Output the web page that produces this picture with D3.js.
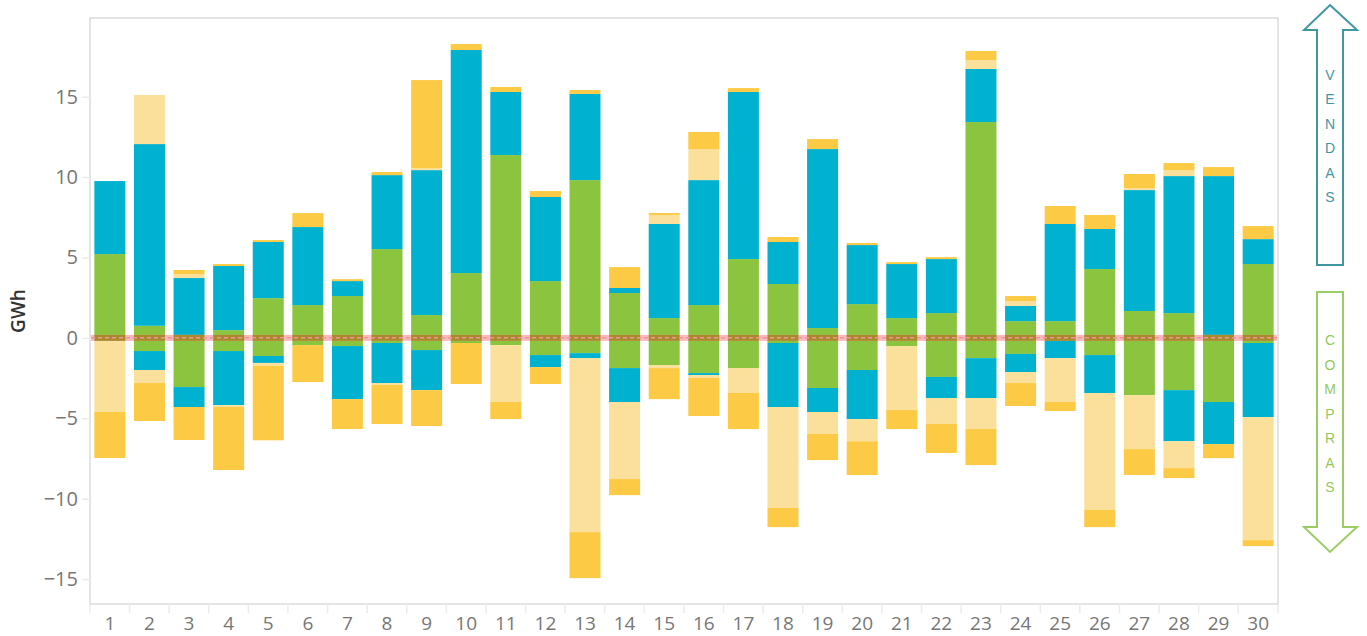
<!DOCTYPE html>
<html>
<head>
<meta charset="utf-8">
<script src="https://cdn.jsdelivr.net/npm/d3@7"></script>
<style>
  html, body { margin: 0; padding: 0; background: #fff; }
  svg { display: block; font-family: "Open Sans", "Noto Sans", sans-serif; }
</style>
</head>
<body>
<svg id="chart" width="1367" height="636"></svg>
<script>
// dias do mês
const days = d3.range(1, 31);

// vendas (positivo)
const greenSales = [5.21, 0.75, 0.05, 0.48, 2.47, 2.04, 2.60, 5.52, 1.42, 4.03, 11.37, 3.53, 9.81, 2.79, 1.23, 2.04, 4.90, 3.35, 0.61, 2.10, 1.23, 1.54, 13.42, 1.04, 1.04, 4.28, 1.67, 1.54, 0, 4.59];
const cyanSales = [4.54, 11.30, 3.67, 3.99, 3.49, 4.85, 0.93, 4.60, 9.01, 13.87, 3.92, 5.23, 5.36, 0.31, 5.85, 7.77, 10.39, 2.61, 11.13, 3.67, 3.36, 3.36, 3.30, 0.94, 6.04, 2.49, 7.52, 8.52, 10.06, 1.55];
const lightSales = [0, 3.05, 0.25, 0, 0, 0, 0, 0, 0.13, 0, 0, 0, 0, 0, 0.56, 1.93, 0, 0, 0, 0, 0, 0, 0.56, 0.31, 0, 0, 0.13, 0.37, 0, 0];
const yellowSales = [0, 0, 0.25, 0.12, 0.12, 0.87, 0.12, 0.19, 5.47, 0.37, 0.31, 0.37, 0.24, 1.30, 0.12, 1.06, 0.24, 0.31, 0.62, 0.13, 0.12, 0.12, 0.56, 0.31, 1.12, 0.87, 0.87, 0.44, 0.56, 0.81];

// compras (negativo)
const greenBuys = [0, 0.82, 3.06, 0.82, 1.13, 0.45, 0.51, 0.32, 0.76, 0.32, 0.45, 1.07, 0.95, 1.88, 1.69, 2.19, 1.88, 0.32, 3.12, 2.00, 0.51, 2.43, 1.26, 1.00, 0, 1.07, 3.56, 3.25, 3.99, 0.32];
const cyanBuys = [0.10, 1.18, 1.24, 3.36, 0.43, 0, 3.30, 2.49, 2.49, 0, 0, 0.75, 0.31, 2.11, 0, 0.12, 0, 3.98, 1.49, 3.05, 0, 1.31, 2.48, 1.13, 1.26, 2.36, 0, 3.18, 2.62, 4.61];
const lightBuys = [4.51, 0.81, 0, 0.12, 0.18, 0, 0, 0.12, 0, 0, 3.54, 0, 10.82, 4.79, 0.19, 0.18, 1.55, 6.27, 1.37, 1.38, 3.98, 1.62, 1.93, 0.68, 2.73, 7.27, 3.36, 1.67, 0, 7.65];
const yellowBuys = [2.86, 2.36, 2.05, 3.92, 4.63, 2.30, 1.86, 2.43, 2.23, 2.55, 1.06, 1.05, 2.86, 1.00, 1.93, 2.37, 2.24, 1.20, 1.62, 2.10, 1.18, 1.80, 2.24, 1.43, 0.56, 1.07, 1.61, 0.62, 0.87, 0.37];

const yTicks = [-15, -10, -5, 0, 5, 10, 15];

const colors = { g: "#8bc53f", c: "#00b1d0", l: "#fae09a", y: "#fcca44" };

const svg = d3.select("#chart");
const plot = { left: 90, right: 1278, top: 18, bottom: 604 };

// tabela para o stack
const table = days.map((d, i) => ({
  day: d,
  gS: greenSales[i], cS: cyanSales[i], lS: lightSales[i], yS: yellowSales[i],
  gP: -greenBuys[i], cP: -cyanBuys[i], lP: -lightBuys[i], yP: -yellowBuys[i]
}));
const keys = ["gS", "cS", "lS", "yS", "gP", "cP", "lP", "yP"];
const series = d3.stack().keys(keys).offset(d3.stackOffsetDiverging)(table);

const x = d3.scaleBand()
  .domain(days)
  .range([plot.left, plot.right])
  .paddingInner(0.217)
  .paddingOuter(0.11);

const y = d3.scaleLinear()
  .domain([-16.55, 19.89])
  .range([plot.bottom, plot.top]);

// caixa do gráfico
svg.append("rect")
  .attr("x", plot.left).attr("y", plot.top)
  .attr("width", plot.right - plot.left).attr("height", plot.bottom - plot.top)
  .attr("fill", "none").attr("stroke", "#dcdcdc").attr("stroke-width", 1.5);

// eixo y
const yAxis = svg.append("g")
  .attr("transform", `translate(${plot.left},0)`)
  .call(d3.axisLeft(y).tickValues(yTicks).tickSize(8).tickPadding(4).tickFormat(d3.format("d")));
yAxis.select(".domain").remove();
yAxis.selectAll("line").attr("stroke", "#ececec").attr("stroke-width", 1.5);
yAxis.selectAll("text")
  .attr("fill", "#777").attr("font-size", 20)
  .attr("font-family", "'Open Sans', sans-serif");

// separadores do eixo x
svg.append("g").selectAll("line")
  .data(d3.range(days.length + 1))
  .join("line")
  .attr("x1", i => plot.left + i * x.step())
  .attr("x2", i => plot.left + i * x.step())
  .attr("y1", plot.bottom).attr("y2", plot.bottom + 9)
  .attr("stroke", "#ececec").attr("stroke-width", 1.5);

// rótulos x
svg.append("g").selectAll("text")
  .data(days)
  .join("text")
  .attr("x", d => x(d) + x.bandwidth() / 2)
  .attr("y", 630)
  .attr("text-anchor", "middle")
  .attr("fill", "#777").attr("font-size", 19)
  .text(d => d);

// título do eixo
svg.append("text")
  .attr("transform", `translate(25,${(plot.top + plot.bottom) / 2}) rotate(-90)`)
  .attr("text-anchor", "middle")
  .attr("fill", "#333").attr("font-size", 19).attr("font-weight", 600)
  .text("GWh");

// barras empilhadas
svg.append("g").selectAll("g")
  .data(series)
  .join("g")
  .attr("fill", s => colors[s.key[0]])
  .selectAll("rect")
  .data(s => s)
  .join("rect")
  .attr("x", d => x(d.data.day))
  .attr("width", x.bandwidth())
  .attr("y", d => y(Math.max(d[0], d[1])))
  .attr("height", d => Math.abs(y(d[0]) - y(d[1])));

// linha do zero
const y0 = y(0);
svg.append("rect")
  .attr("x", plot.left + 1).attr("width", plot.right - plot.left - 2)
  .attr("y", y0 - 3).attr("height", 6)
  .attr("fill", "#f9b9bd");
svg.append("g").selectAll("rect")
  .data(days)
  .join("rect")
  .attr("x", d => x(d)).attr("width", x.bandwidth())
  .attr("y", y0 - 3).attr("height", 6)
  .attr("fill", "#a98a2b");
svg.append("line")
  .attr("x1", plot.left + 1).attr("x2", plot.right - 1)
  .attr("y1", y0).attr("y2", y0)
  .attr("stroke", "#f0959b").attr("stroke-width", 1.5)
  .attr("stroke-dasharray", "4,3");

// setas VENDAS / COMPRAS
const cx = 1330;
svg.append("path")
  .attr("d", `M${cx},5 L1357,30 L1343,30 L1343,265 L1317,265 L1317,30 L1304,30 Z`)
  .attr("fill", "none").attr("stroke", "#3f97a2").attr("stroke-width", 2);
svg.append("path")
  .attr("d", `M1317,292 L1343,292 L1343,527 L1357,527 L${cx},552 L1304,527 L1317,527 Z`)
  .attr("fill", "none").attr("stroke", "#9ccc65").attr("stroke-width", 2);

svg.append("g").selectAll("text")
  .data("VENDAS".split(""))
  .join("text")
  .attr("x", cx).attr("y", (d, i) => 80 + i * 24.4)
  .attr("text-anchor", "middle")
  .attr("font-size", 14).attr("fill", "#3f97a2")
  .attr("font-family", "'Liberation Sans', Arial, sans-serif")
  .text(d => d);

svg.append("g").selectAll("text")
  .data("COMPRAS".split(""))
  .join("text")
  .attr("x", cx).attr("y", (d, i) => 345 + i * 24.5)
  .attr("text-anchor", "middle")
  .attr("font-size", 14).attr("fill", "#94c95a")
  .attr("font-family", "'Liberation Sans', Arial, sans-serif")
  .text(d => d);
</script>
</body>
</html>
